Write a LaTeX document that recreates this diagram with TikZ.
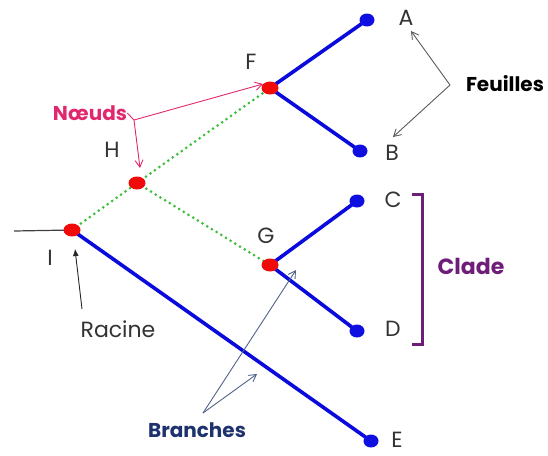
\documentclass[tikz,border=0pt]{standalone}
\usepackage{fontspec}
\setmainfont{Poppins}
\usetikzlibrary{shapes.geometric,arrows.meta,backgrounds}
\definecolor{edgeblue}{RGB}{10,10,220}
\definecolor{dotgreen}{RGB}{60,190,60}
\definecolor{innerred}{RGB}{240,10,10}
\definecolor{leafblue}{RGB}{15,15,225}
\definecolor{pinklabel}{RGB}{225,40,110}
\definecolor{cladepurple}{RGB}{110,30,120}
\definecolor{branchnavy}{RGB}{30,50,110}
\definecolor{pointergray}{RGB}{90,90,90}
\definecolor{pointerslate}{RGB}{80,100,135}
\tikzset{
  x=1pt, y=-1pt,
  inner/.style={ellipse, fill=innerred, minimum width=17pt, minimum height=13pt, inner sep=0pt},
  leaf/.style={ellipse, fill=leafblue, minimum width=15pt, minimum height=13pt, inner sep=0pt},
  lbl/.style={font=\fontsize{22}{22}\selectfont, text=black!80, inner sep=0pt},
  solidbranch/.style={edgeblue, line width=3.6pt},
  dotbranch/.style={dotgreen, line width=3pt, line cap=round, dash pattern=on 0pt off 5.5pt},
  pointer/.style={line width=0.9pt, -{Straight Barb[length=7pt,width=8pt]}},
}
\begin{document}
\begin{tikzpicture}
\useasboundingbox (0,0) rectangle (548,455);

% tree nodes
\node[inner] (I) at (72,230) {};
\node[inner] (H) at (137,183) {};
\node[inner] (F) at (270,88) {};
\node[inner] (G) at (270,265) {};
\node[leaf] (A) at (367,20) {};
\node[leaf] (B) at (360,151) {};
\node[leaf] (C) at (357,201) {};
\node[leaf] (D) at (357,331) {};
\node[leaf] (E) at (371,441) {};
\coordinate (stem) at (14,231);

% branches, behind the node dots
\begin{scope}[on background layer]
  \draw[black!75, line width=1.2pt] (stem) -- (I.center);
  \draw[dotbranch] (I.center) -- (H.center);
  \draw[dotbranch] (H.center) -- (F.center);
  \draw[dotbranch] (H.center) -- (G.center);
  \draw[solidbranch] (I.center) -- (E.center);
  \draw[solidbranch] (F.center) -- (A.center);
  \draw[solidbranch] (F.center) -- (B.center);
  \draw[solidbranch] (G.center) -- (C.center);
  \draw[solidbranch] (G.center) -- (D.center);
\end{scope}

% node letters
\node[lbl] (tA) at (406,18) {A};
\node[lbl] (tB) at (392,153) {B};
\node[lbl] (tC) at (393,200) {C};
\node[lbl] (tD) at (393,329) {D};
\node[lbl] (tE) at (397,440) {E};
\node[lbl] (tF) at (251,62) {F};
\node[lbl] (tH) at (112,150) {H};
\node[lbl] (tG) at (266,236) {G};
\node[lbl] (tI) at (50,258) {I};

% Nœuds
\node[font=\fontsize{20}{20}\selectfont\bfseries, text=pinklabel, inner sep=0pt] (noeuds) at (90,113) {Nœuds};
\coordinate (nk) at (134,120);
\draw[pinklabel, line width=0.9pt] (noeuds.east) -- (nk);
\draw[pinklabel, pointer] (nk) -- (263,84);
\draw[pinklabel, pointer] (nk) -- (140,168);

% Feuilles
\node[font=\fontsize{20}{20}\selectfont\bfseries, text=black, inner sep=0pt] (feuilles) at (505,84) {Feuilles};
\coordinate (fk) at (450,85);
\draw[pointergray, pointer] (fk) -- (411,31);
\draw[pointergray, pointer] (fk) -- (393,137);

% Clade bracket
\node[font=\fontsize{22}{22}\selectfont\bfseries, text=cladepurple, inner sep=0pt] (clade) at (471,266) {Clade};
\coordinate (c1) at (412,194);
\coordinate (c2) at (412,344);
\draw[cladepurple, line width=3pt] (c1) -- ++(10,0) |- (c2);

% Racine
\node[font=\fontsize{22}{22}\selectfont, text=black!80, inner sep=0pt] (racine) at (118,329) {Racine};
\coordinate (rk) at (82,309);
\draw[black!85, line width=0.9pt, -{Latex[length=7pt,width=6pt]}] (rk) -- (75,249);

% Branches
\node[font=\fontsize{20}{20}\selectfont\bfseries, text=branchnavy, inner sep=0pt] (branches) at (197,430) {Branches};
\coordinate (bk) at (203,413);
\draw[pointerslate, pointer] (bk) -- (257,374);
\draw[pointerslate, pointer] (bk) -- (296,270);
\end{tikzpicture}
\end{document}
